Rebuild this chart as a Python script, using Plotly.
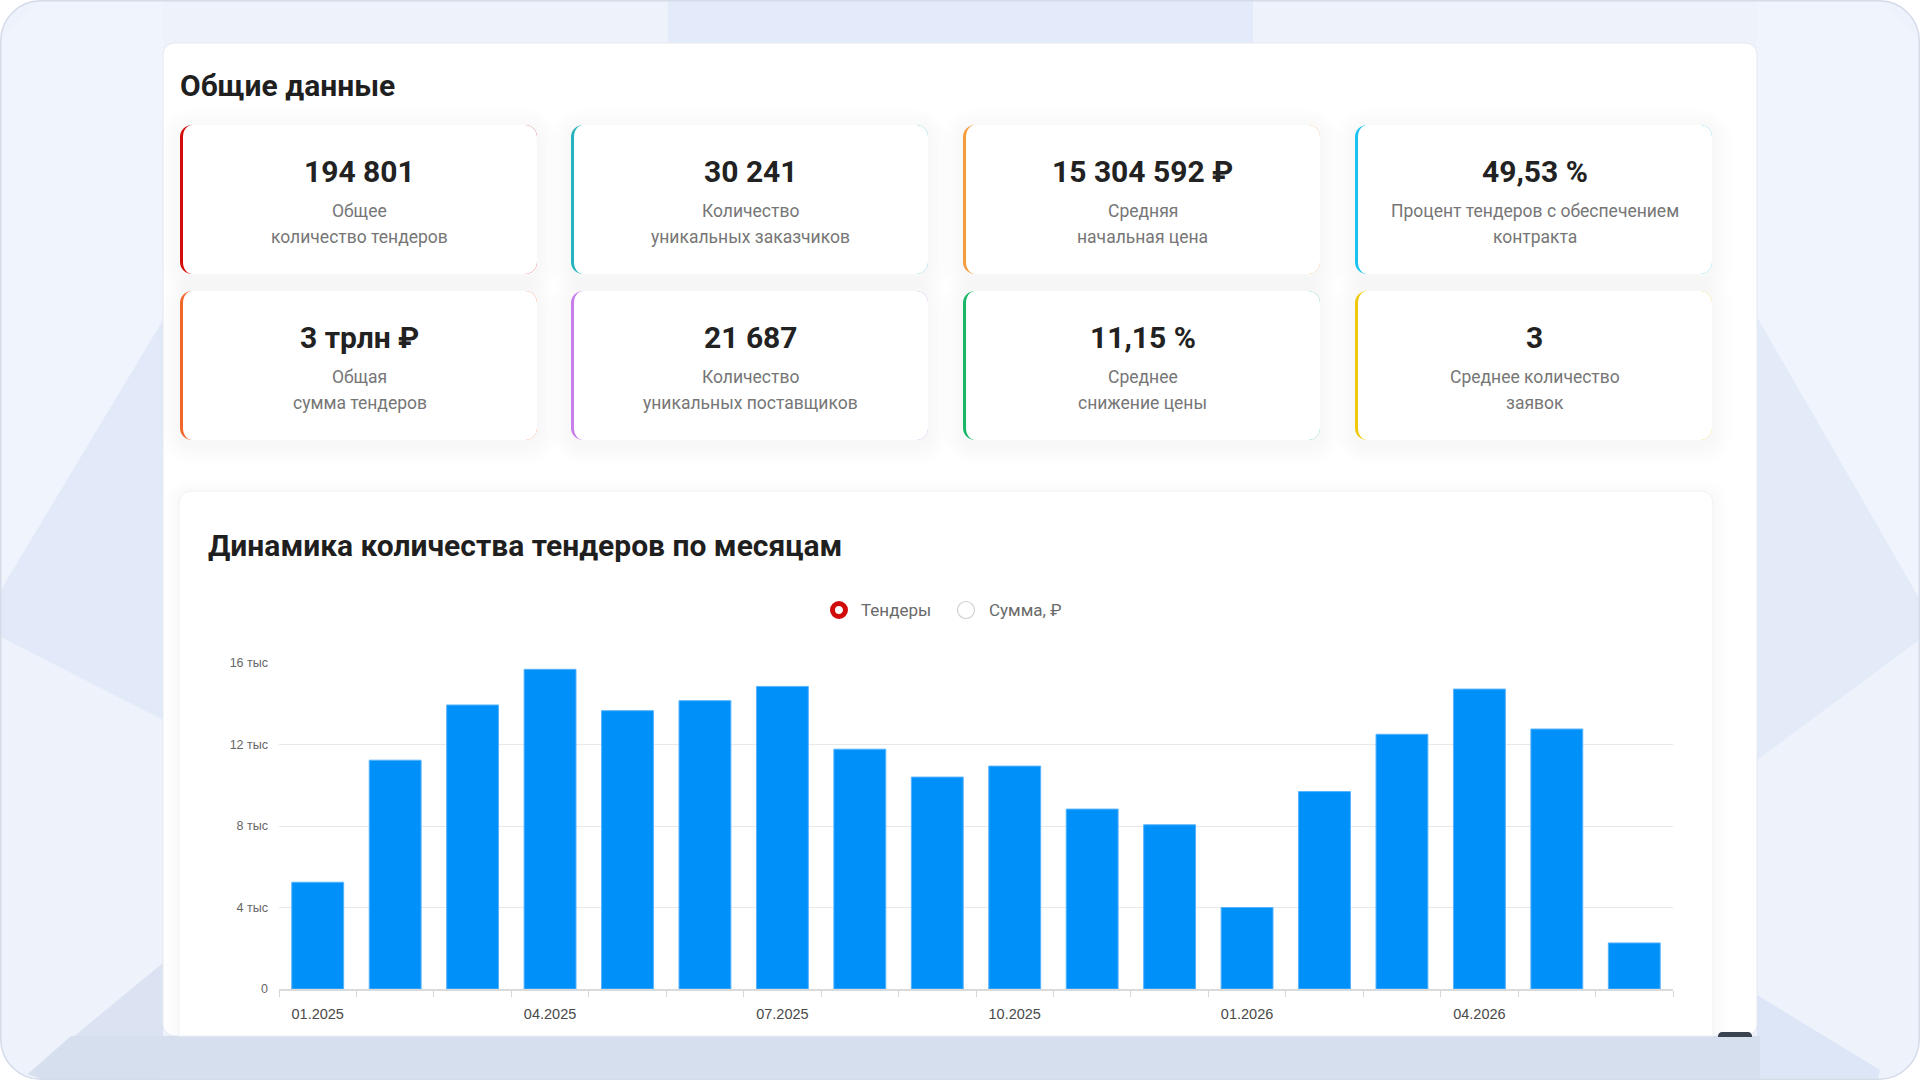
import plotly.graph_objects as go

W, H = 1920, 1080

# ---------------- data ----------------
months = ["01.2025", "02.2025", "03.2025", "04.2025", "05.2025", "06.2025",
          "07.2025", "08.2025", "09.2025", "10.2025", "11.2025", "12.2025",
          "01.2026", "02.2026", "03.2026", "04.2026", "05.2026", "06.2026"]
tenders = [5240, 11230, 13940, 15690, 13660, 14150, 14850, 11770, 10400,
           10940, 8830, 8060, 4000, 9690, 12500, 14720, 12760, 2260]
x_labels_shown = ["01.2025", "04.2025", "07.2025", "10.2025", "01.2026", "04.2026"]
y_tick_vals = [0, 4000, 8000, 12000, 16000]
y_tick_text = ["0", "4 тыс", "8 тыс", "12 тыс", "16 тыс"]
legend_names = ["Тендеры", "Сумма, ₽"]

page_title = "Общие данные"
chart_title = "Динамика количества тендеров по месяцам"
kpi_values = ["194 801", "30 241", "15 304 592 ₽", "49,53 %",
              "3 трлн ₽", "21 687", "11,15 %", "3"]
kpi_line1 = ["Общее", "Количество", "Средняя", "Процент тендеров с обеспечением",
             "Общая", "Количество", "Среднее", "Среднее количество"]
kpi_line2 = ["количество тендеров", "уникальных заказчиков", "начальная цена", "контракта",
             "сумма тендеров", "уникальных поставщиков", "снижение цены", "заявок"]
kpi_colors = ["#d30b0b", "#27b3bd", "#f59c3e", "#19c3f1",
              "#f2682b", "#c77ee9", "#18b866", "#f0c90a"]

# ---------------- helpers ----------------
K = 0.5523


def pt(x, y):
    return f"{x / W:.6f},{1 - y / H:.6f}"


def rrpath(x0, y0, x1, y1, tl=(0, 0), tr=(0, 0), br=(0, 0), bl=(0, 0)):
    s = f"M {pt(x0 + tl[0], y0)} L {pt(x1 - tr[0], y0)} "
    if tr[0] > 0:
        s += f"C {pt(x1 - tr[0] + K * tr[0], y0)} {pt(x1, y0 + tr[1] - K * tr[1])} {pt(x1, y0 + tr[1])} "
    s += f"L {pt(x1, y1 - br[1])} "
    if br[0] > 0:
        s += f"C {pt(x1, y1 - br[1] + K * br[1])} {pt(x1 - br[0] + K * br[0], y1)} {pt(x1 - br[0], y1)} "
    s += f"L {pt(x0 + bl[0], y1)} "
    if bl[0] > 0:
        s += f"C {pt(x0 + bl[0] - K * bl[0], y1)} {pt(x0, y1 - bl[1] + K * bl[1])} {pt(x0, y1 - bl[1])} "
    s += f"L {pt(x0, y0 + tl[1])} "
    if tl[0] > 0:
        s += f"C {pt(x0, y0 + tl[1] - K * tl[1])} {pt(x0 + tl[0] - K * tl[0], y0)} {pt(x0 + tl[0], y0)} "
    return s + "Z"


def rr(x0, y0, x1, y1, r):
    return rrpath(x0, y0, x1, y1, (r, r), (r, r), (r, r), (r, r))


def poly(points):
    return "M " + " L ".join(pt(x, y) for x, y in points) + " Z"


shapes = []
annotations = []


def add_path(path, fill, line_color="rgba(0,0,0,0)", line_width=0):
    shapes.append(dict(type="path", path=path, xref="paper", yref="paper",
                       fillcolor=fill, line=dict(width=line_width, color=line_color),
                       layer="below"))


def add_circle(cx, cy, r, fill, line_color, line_width):
    shapes.append(dict(type="circle", xref="paper", yref="paper",
                       x0=(cx - r) / W, x1=(cx + r) / W,
                       y0=1 - (cy + r) / H, y1=1 - (cy - r) / H,
                       fillcolor=fill, line=dict(width=line_width, color=line_color),
                       layer="above"))


def txt(x, y, text, size, color, weight=400, anchor="center", family="Roboto"):
    annotations.append(dict(x=x / W, y=1 - y / H, xref="paper", yref="paper",
                            text=text, showarrow=False, xanchor=anchor, yanchor="middle",
                            font=dict(family=family, size=size, color=color, weight=weight)))


def add_shadow(x0, y0, x1, y1, r, layers=7, step=3, alpha=0.0045, dy=4):
    for k in range(layers, 0, -1):
        e = k * step
        add_path(rr(x0 - e, y0 - e + dy, x1 + e, y1 + e + dy, r + e), f"rgba(20,30,50,{alpha})")


# ---------------- page background ----------------
add_path(rr(0.75, 0.75, W - 0.75, H - 0.75, 40), "#edf2fb")
# lighter top corners
add_path(poly([(40, 1), (163, 1), (163, 320), (0, 590), (1, 40)]), "#f0f5fd")
add_path(poly([(1757, 1), (1880, 1), (1919, 40), (1919, 598), (1863, 500), (1757, 317)]), "#f0f4fd")
# top band
add_path(poly([(668, 1), (1253, 1), (1253, 43), (668, 43)]), "#e3ebfb")
# left darker wedge
add_path(poly([(163, 320), (163, 720), (1, 637), (1, 590)]), "#e2eaf9")
# right darker wedge
add_path(poly([(1757, 317), (1919, 598), (1919, 640), (1757, 760)]), "#e3ebf9")
# bottom-left wedge
add_path(poly([(163, 963), (163, 1079), (42, 1079), (28, 1074)]), "#dbe3f3")
# bottom-right wedge
add_path(poly([(1757, 995), (1880, 1070), (1878, 1079), (1757, 1079)]), "#dde6f7")
# band under the panel
add_path(poly([(71, 1036), (1757, 1036), (1757, 1079), (42, 1079), (28, 1074)]), "#d6dfed")
# frame outline
add_path(rr(0.75, 0.75, W - 0.75, H - 0.75, 40), "rgba(0,0,0,0)", "#d5dce8", 1.5)

# ---------------- main white panel ----------------
add_path(rr(163, 43, 1757, 1036, 12), "#ffffff", "#e6e9ef", 1)

# ---------------- KPI cards ----------------
card_x0 = [180, 571, 963, 1355]
card_w = 357
row_y0 = [125, 291]
card_h = 149
for i in range(8):
    col, row = i % 4, i // 4
    x0, y0 = card_x0[col], row_y0[row]
    add_shadow(x0, y0, x0 + card_w, y0 + card_h, 12)
for i in range(8):
    col, row = i % 4, i // 4
    x0, y0 = card_x0[col], row_y0[row]
    x1, y1 = x0 + card_w, y0 + card_h
    add_path(rr(x0, y0, x1, y1, 12), kpi_colors[i])
    add_path(rrpath(x0 + 3, y0, x1, y1, (9, 12), (12, 12), (12, 12), (9, 12)), "#ffffff")
    cx = x0 + card_w / 2 + 1
    txt(cx, y0 + 46, kpi_values[i], 30, "#222222", 700)
    txt(cx, y0 + 86.5, kpi_line1[i], 17.5, "#767676")
    txt(cx, y0 + 112, kpi_line2[i], 17.5, "#767676")

txt(178, 86, page_title, 30, "#1f1f1f", 700, anchor="left")

# ---------------- chart card ----------------
add_shadow(179, 491, 1713, 1036, 12, layers=5, step=3, alpha=0.0045, dy=2)
add_path(poly([(160, 1036), (1760, 1036), (1760, 1079), (160, 1079)]), "#d6dfed")
add_path(rrpath(179, 491, 1713, 1036, (12, 12), (12, 12), (0, 0), (0, 0)), "#ffffff", "#eef0f4", 1)
# small dark element at the panel's bottom-right
add_path(rrpath(1718, 1032, 1752, 1037, (4, 4), (4, 4), (0, 0), (0, 0)), "#3c4350")

txt(206, 545.5, chart_title, 30, "#1f1f1f", 700, anchor="left")

# legend (drawn as markers + labels)
add_circle(839, 610, 6.5, "#ffffff", "#d10a0a", 5)
txt(859, 610, legend_names[0], 17, "#6a6a6a", anchor="left")
add_circle(966, 610, 8.5, "#ffffff", "#d2d2d2", 1.2)
txt(987, 610, legend_names[1], 17, "#6a6a6a", anchor="left")

# ---------------- figure ----------------
tick_text = [m if m in x_labels_shown else "" for m in months]

fig = go.Figure(go.Bar(
    x=months, y=tenders, name=legend_names[0],
    marker=dict(color="#0090fa", line=dict(color="#57b3ff", width=1)),
    showlegend=False,
))

fig.update_layout(
    template="none",
    width=W, height=H,
    margin=dict(l=0, r=0, t=0, b=0),
    paper_bgcolor="#ffffff",
    plot_bgcolor="rgba(0,0,0,0)",
    showlegend=False,
    bargap=0.33,
    shapes=shapes,
    annotations=annotations,
    xaxis=dict(
        domain=[279 / W, 1673 / W],
        type="category",
        tickmode="array", tickvals=months, ticktext=tick_text,
        tickson="boundaries", ticks="outside", ticklen=6, tickwidth=1, tickcolor="#d6d6d6",
        showline=True, linecolor="#dadada", linewidth=2,
        showgrid=False, zeroline=False, tickangle=0,
        ticklabelstandoff=11,
        tickfont=dict(family="Liberation Sans", size=14.5, color="#4a4a4a"),
        fixedrange=True,
    ),
    yaxis=dict(
        domain=[(H - 989) / H, (H - 663) / H],
        range=[0, 16000],
        tickmode="array", tickvals=y_tick_vals, ticktext=y_tick_text,
        showgrid=True, gridcolor="#e8e8e8", gridwidth=1,
        zeroline=False, showline=False, ticks="",
        ticklabelstandoff=10,
        tickfont=dict(family="Liberation Sans", size=12.5, color="#666666"),
        fixedrange=True,
    ),
)

fig.write_html("out.html")
